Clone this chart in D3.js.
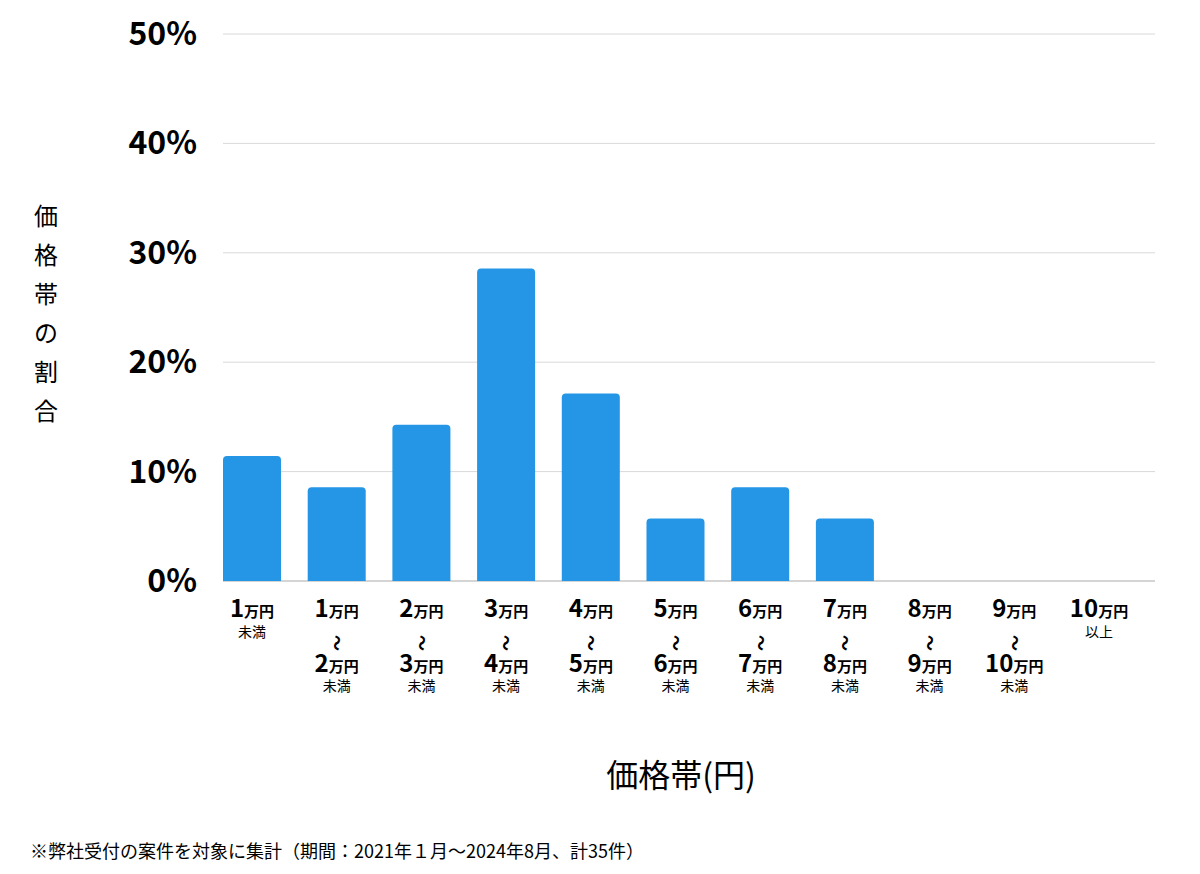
<!DOCTYPE html>
<html><head><meta charset="utf-8">
<script src="https://cdn.jsdelivr.net/npm/d3@7"></script>
<style>body{margin:0;background:#fff}svg{font-family:"Noto Sans CJK JP","Noto Sans",sans-serif}</style>
</head><body><svg id="c" width="1200" height="874"></svg>
<script>
const fromLabels=["1","1","2","3","4","5","6","7","8","9","10"];
const toLabels=[null,"2","3","4","5","6","7","8","9","10",null];
const subLabels=["未満","未満","未満","未満","未満","未満","未満","未満","未満","未満","以上"];
const values=[11.43,8.57,14.29,28.57,17.14,5.71,8.57,5.71,0,0,0];
const yTicks=[0,10,20,30,40,50];

const svg=d3.select("#c");
const x=d3.scaleBand().domain(d3.range(values.length)).range([223,1128]).paddingInner(0.315).paddingOuter(0);
const y=d3.scaleLinear().domain([0,50]).range([581,34]);

svg.append("g").selectAll("line").data(yTicks).join("line")
 .attr("x1",223).attr("x2",1155).attr("y1",d=>y(d)).attr("y2",d=>y(d))
 .attr("stroke",d=>d===0?"#aaa":"#d9d9d9").attr("stroke-width",1);
svg.append("g").selectAll("text").data(yTicks).join("text")
 .attr("x",197).attr("y",d=>y(d)+11).attr("text-anchor","end")
 .attr("font-size",32).attr("font-weight","bold").attr("fill","#000").text(d=>d+"%");

svg.append("g").selectAll("path").data(values).join("path")
 .attr("fill","#2596e6")
 .attr("d",(d,i)=>{const x0=x(i),w=x.bandwidth(),y0=y(d),b=y(0),r=Math.min(4,b-y0);
   if(d<=0)return "";
   return `M${x0},${b}V${y0+r}Q${x0},${y0} ${x0+r},${y0}H${x0+w-r}Q${x0+w},${y0} ${x0+w},${y0+r}V${b}Z`;});

const g=svg.append("g");
values.forEach((v,i)=>{
 const cx=x(i)+x.bandwidth()/2;
 const lab=(yy,num)=>{const t=g.append("text").attr("x",cx).attr("y",yy).attr("text-anchor","middle").attr("font-weight","bold");
   t.append("tspan").attr("font-size",24).text(num);t.append("tspan").attr("font-size",15).text("万円");};
 lab(617,fromLabels[i]);
 let sy=637;
 if(toLabels[i]){
   g.append("text").attr("transform",`translate(${cx},643) rotate(90)`).attr("text-anchor","middle").attr("dy","0.35em")
    .attr("font-size",16).attr("font-weight","bold").text("〜");
   lab(672,toLabels[i]); sy=691;
 }
 g.append("text").attr("x",cx).attr("y",sy).attr("text-anchor","middle").attr("font-size",14).text(subLabels[i]);
});

const yl="価格帯の割合".split("");
svg.append("g").selectAll("text").data(yl).join("text")
 .attr("x",46).attr("y",(d,i)=>225+i*39).attr("text-anchor","middle").attr("font-size",24).text(d=>d);
svg.append("text").attr("x",681).attr("y",787).attr("text-anchor","middle").attr("font-size",32).text("価格帯(円)");
svg.append("text").attr("x",30).attr("y",858).attr("font-size",18).text("※弊社受付の案件を対象に集計（期間：2021年１月～2024年8月、計35件）");
</script></body></html>
